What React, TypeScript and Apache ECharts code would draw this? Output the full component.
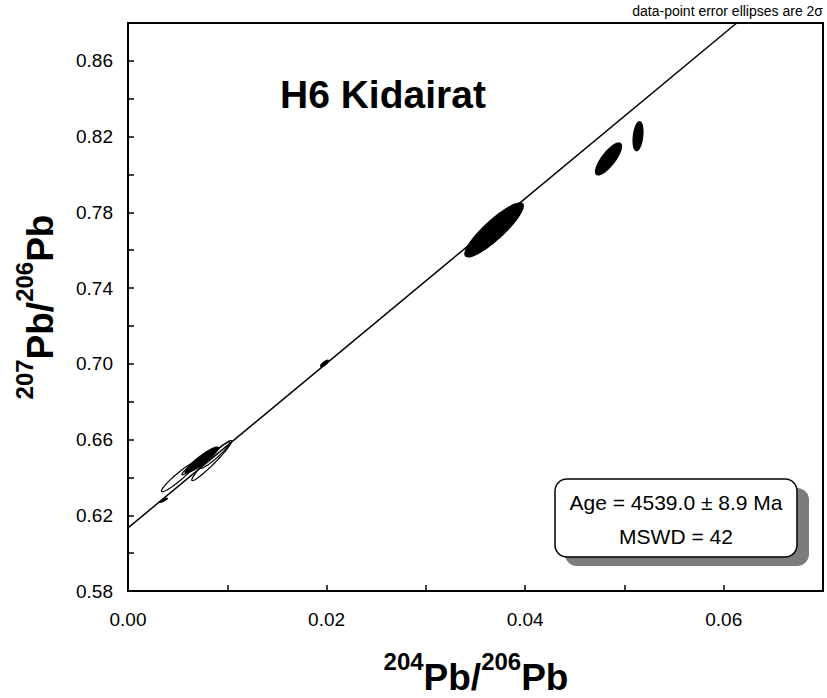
import React, { useEffect, useRef } from 'react';
import * as echarts from 'echarts';

// ---- axes ----
const X_MIN = 0;
const X_MAX = 0.07;
const X_STEP = 0.01;
const Y_MIN = 0.58;
const Y_MAX = 0.88;
const Y_STEP = 0.02;
const xTickLabels = ['0.00', '0.02', '0.04', '0.06'];
const yTickLabels = ['0.58', '0.62', '0.66', '0.70', '0.74', '0.78', '0.82', '0.86'];

// ---- data-point error ellipses (2σ half-extents, correlation) ----
const ellX = [0.00513, 0.00634, 0.00843, 0.00876, 0.00357, 0.00742, 0.0198, 0.03687, 0.0484, 0.05137];
const ellY = [0.6403, 0.6451, 0.6489, 0.6517, 0.6279, 0.6492, 0.7002, 0.7707, 0.8082, 0.8202];
const ellErrX = [0.00176, 0.00091, 0.00201, 0.00151, 0.0004, 0.00168, 0.0004, 0.00294, 0.00131, 0.0005];
const ellErrY = [0.0079, 0.0037, 0.0106, 0.007, 0.0011, 0.00687, 0.0017, 0.01426, 0.00845, 0.00766];
const ellRho = [0.95, 0.94, 0.965, 0.95, 0.9, 0.924, 0.8, 0.886, 0.79, 0.3];
const ellFilled = [0, 0, 0, 0, 1, 1, 1, 1, 1, 1];

// ---- isochron ----
const isoIntercept = 0.6133;
const isoSlope = 4.35;

// ---- texts ----
const titleText = 'H6 Kidairat';
const noteText = 'data-point error ellipses are 2σ';
const ageText = 'Age = 4539.0 ± 8.9 Ma';
const mswdText = 'MSWD = 42';
const xTitleParts: [string, boolean][] = [['204', true], ['Pb/', false], ['206', true], ['Pb', false]];
const yTitleParts: [string, boolean][] = [['207', true], ['Pb/', false], ['206', true], ['Pb', false]];

const FONT = '"Liberation Sans", Arial, Helvetica, sans-serif';
const MAIN_SIZE = 37;
const SUP_SIZE = 24;
const SUP_RISE = 16;

function buildTitle(parts: [string, boolean][]) {
  const canvas = document.createElement('canvas');
  const ctx = canvas.getContext('2d') as CanvasRenderingContext2D;
  const widths = parts.map(([t, sup]) => {
    ctx.font = `bold ${sup ? SUP_SIZE : MAIN_SIZE}px "Liberation Sans"`;
    return ctx.measureText(t).width;
  });
  const total = widths.reduce((a, b) => a + b, 0);
  let cur = -total / 2;
  return parts.map(([t, sup], i) => {
    const el = {
      type: 'text',
      x: cur,
      y: sup ? -SUP_RISE : 0,
      style: {
        text: t,
        fontSize: sup ? SUP_SIZE : MAIN_SIZE,
        fontWeight: 'bold',
        fontFamily: FONT,
        fill: '#000',
        align: 'left',
        verticalAlign: 'middle',
      },
    };
    cur += widths[i];
    return el;
  });
}

export default function App() {
  const ref = useRef<HTMLDivElement>(null);

  useEffect(() => {
    if (!ref.current) return;
    const chart = echarts.init(ref.current, undefined, { renderer: 'svg' });

    const ellData = ellX.map((x, i) => [x, ellY[i], ellErrX[i], ellErrY[i], ellRho[i], ellFilled[i]]);
    const openData = ellData.filter((d) => d[5] === 0);
    const filledData = ellData.filter((d) => d[5] === 1);

    const renderEllipse = (_params: any, api: any) => {
      const cx = api.value(0);
      const cy = api.value(1);
      const ex = api.value(2);
      const ey = api.value(3);
      const rho = api.value(4);
      const filled = api.value(5);
      const k = Math.sqrt(1 - rho * rho);
      const pts: number[][] = [];
      const n = 120;
      for (let i = 0; i < n; i++) {
        const t = (i / n) * Math.PI * 2;
        pts.push(api.coord([cx + ex * Math.cos(t), cy + ey * (rho * Math.cos(t) + k * Math.sin(t))]));
      }
      return {
        type: 'polygon',
        shape: { points: pts },
        style: { fill: filled ? '#000' : 'none', stroke: '#000', lineWidth: 1.2 },
      };
    };

    const xEnd = (Y_MAX - isoIntercept) / isoSlope;

    const fmt = (labels: string[]) => (v: number) => {
      const s = v.toFixed(2);
      return labels.includes(s) ? s : '';
    };

    const axisCommon = {
      type: 'value' as const,
      axisLine: { show: true, lineStyle: { color: '#000', width: 2 } },
      axisTick: { show: true, inside: true, length: 6, lineStyle: { color: '#000', width: 1.5 } },
      splitLine: { show: false },
    };

    chart.setOption({
      animation: false,
      backgroundColor: '#fff',
      grid: {
        left: 128,
        right: 4,
        top: 23,
        bottom: 107,
        show: true,
        borderColor: '#000',
        borderWidth: 2,
        backgroundColor: 'transparent',
      },
      xAxis: {
        ...axisCommon,
        min: X_MIN,
        max: X_MAX,
        interval: X_STEP,
        axisLabel: {
          color: '#000',
          fontSize: 19,
          fontFamily: FONT,
          margin: 19,
          formatter: fmt(xTickLabels),
        },
      },
      yAxis: {
        ...axisCommon,
        min: Y_MIN,
        max: Y_MAX,
        interval: Y_STEP,
        axisLabel: {
          color: '#000',
          fontSize: 19,
          fontFamily: FONT,
          margin: 15,
          formatter: fmt(yTickLabels),
        },
      },
      series: [
        {
          type: 'line',
          data: [
            [X_MIN, isoIntercept],
            [xEnd, Y_MAX],
          ],
          symbol: 'none',
          lineStyle: { color: '#000', width: 1.5 },
          z: 2,
          silent: true,
        },
        {
          type: 'custom',
          renderItem: renderEllipse,
          data: openData,
          encode: { x: 0, y: 1 },
          clip: true,
          z: 3,
          silent: true,
        },
        {
          type: 'custom',
          renderItem: renderEllipse,
          data: filledData,
          encode: { x: 0, y: 1 },
          clip: true,
          z: 4,
          silent: true,
        },
      ],
      graphic: [
        {
          type: 'text',
          x: 280,
          y: 94,
          style: { text: titleText, fontSize: 39, fontWeight: 'bold', fontFamily: FONT, fill: '#000', align: 'left', verticalAlign: 'middle' },
        },
        {
          type: 'text',
          x: 823,
          y: 11,
          style: { text: noteText, fontSize: 14, fontFamily: FONT, fill: '#000', align: 'right', verticalAlign: 'middle' },
        },
        {
          type: 'rect',
          shape: { x: 565, y: 488, width: 244, height: 78, r: 12 },
          style: { fill: '#7c7c7c' },
          z: 10,
        },
        {
          type: 'rect',
          shape: { x: 555, y: 479, width: 242, height: 78, r: 12 },
          style: { fill: '#fff', stroke: '#000', lineWidth: 1.5 },
          z: 11,
        },
        {
          type: 'text',
          x: 676,
          y: 502,
          z: 12,
          style: { text: ageText, fontSize: 21, fontFamily: FONT, fill: '#000', align: 'center', verticalAlign: 'middle' },
        },
        {
          type: 'text',
          x: 676,
          y: 536,
          z: 12,
          style: { text: mswdText, fontSize: 21, fontFamily: FONT, fill: '#000', align: 'center', verticalAlign: 'middle' },
        },
        {
          type: 'group',
          x: 476,
          y: 677,
          children: buildTitle(xTitleParts),
        },
        {
          type: 'group',
          x: 40,
          y: 307,
          rotation: Math.PI / 2,
          children: buildTitle(yTitleParts),
        },
      ],
    });

    return () => {
      chart.dispose();
    };
  }, []);

  return (
    <div
      ref={ref}
      style={{ position: 'fixed', left: 0, top: 0, width: 827, height: 698, background: '#fff' }}
    />
  );
}
